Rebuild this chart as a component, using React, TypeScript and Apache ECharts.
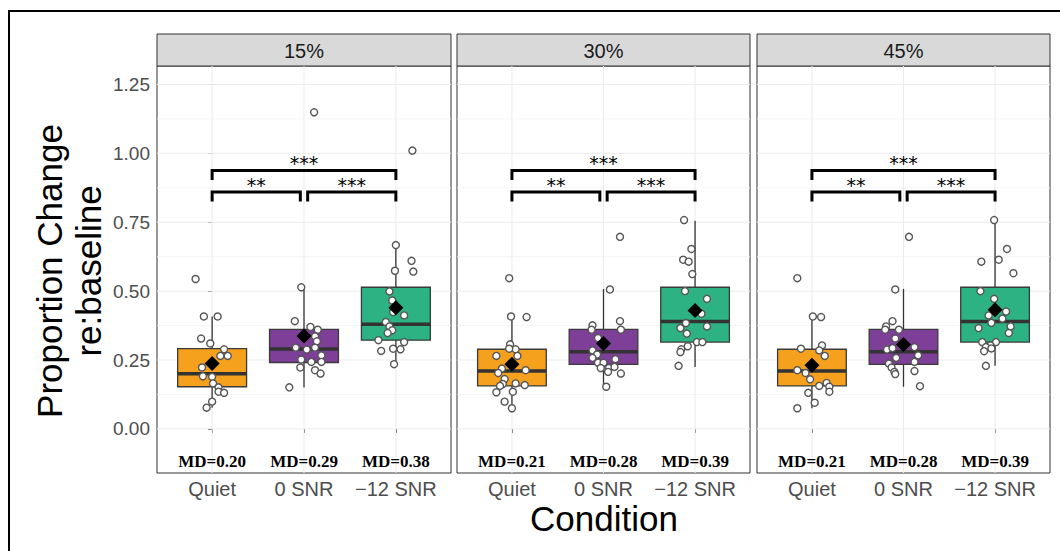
import React, { useEffect, useRef } from 'react';
import * as echarts from 'echarts';

// ---------- data ----------
const categories = ['Quiet', '0 SNR', '\u221212 SNR'];
const panelLabels = ['15%', '30%', '45%'];
const boxColors = ['#F5A11E', '#7D3F98', '#2DB383'];

const yTicks = [0, 0.25, 0.5, 0.75, 1.0, 1.25];
const yMinorLines = [0.125, 0.375, 0.625, 0.875, 1.125];

// box statistics per panel (Quiet, 0 SNR, -12 SNR)
const medians = [
  [0.2, 0.29, 0.38],
  [0.21, 0.28, 0.39],
  [0.21, 0.28, 0.39],
];
const q1s = [
  [0.153, 0.241, 0.322],
  [0.156, 0.234, 0.315],
  [0.156, 0.234, 0.315],
];
const q3s = [
  [0.291, 0.361, 0.514],
  [0.289, 0.361, 0.514],
  [0.289, 0.361, 0.514],
];
const whiskerLows = [
  [0.077, 0.15, 0.235],
  [0.075, 0.153, 0.225],
  [0.075, 0.153, 0.229],
];
const whiskerHighs = [
  [0.408, 0.514, 0.667],
  [0.408, 0.508, 0.755],
  [0.408, 0.508, 0.758],
];
const means = [
  [0.237, 0.337, 0.44],
  [0.235, 0.31, 0.43],
  [0.231, 0.306, 0.432],
];

// individual observations (values) and their horizontal jitter (category units)
const quiet15 = [0.544, 0.408, 0.408, 0.328, 0.31, 0.289, 0.265, 0.265, 0.223, 0.191, 0.189, 0.165, 0.151, 0.135, 0.131, 0.099, 0.077];
const quiet15Jitter = [-0.18, -0.09, 0.06, -0.12, -0.02, 0.13, 0.09, 0.17, -0.11, -0.1, 0.0, 0.01, 0.07, 0.07, 0.13, 0.0, -0.06];
const snr0_15 = [1.149, 0.514, 0.391, 0.37, 0.36, 0.336, 0.318, 0.295, 0.288, 0.295, 0.267, 0.252, 0.243, 0.243, 0.223, 0.213, 0.201, 0.151];
const snr0_15Jitter = [0.11, -0.03, -0.1, 0.07, 0.15, 0.12, 0.14, -0.09, 0.03, 0.12, 0.19, -0.03, 0.08, 0.19, -0.04, 0.12, 0.18, -0.16];
const snr12_15 = [1.01, 0.667, 0.61, 0.571, 0.574, 0.499, 0.466, 0.424, 0.412, 0.388, 0.372, 0.358, 0.348, 0.322, 0.315, 0.283, 0.291, 0.289, 0.235];
const snr12_15Jitter = [0.18, 0.0, 0.17, 0.19, -0.01, -0.07, -0.04, -0.03, 0.09, -0.11, -0.07, -0.04, -0.09, -0.19, 0.09, -0.16, -0.03, 0.05, -0.02];

const quiet30 = [0.547, 0.408, 0.406, 0.307, 0.289, 0.291, 0.265, 0.265, 0.219, 0.213, 0.203, 0.181, 0.163, 0.165, 0.159, 0.156, 0.133, 0.135, 0.099, 0.075];
const quiet30Jitter = [-0.03, -0.01, 0.16, -0.02, 0.04, -0.03, -0.17, 0.06, -0.11, 0.15, -0.15, -0.08, -0.1, 0.04, 0.14, -0.13, -0.17, 0.01, -0.08, 0.0];
const snr0_30 = [0.697, 0.506, 0.376, 0.391, 0.36, 0.36, 0.33, 0.285, 0.27, 0.258, 0.253, 0.24, 0.24, 0.221, 0.221, 0.225, 0.207, 0.201, 0.153];
const snr0_30Jitter = [0.18, 0.07, -0.12, 0.18, 0.19, -0.13, -0.06, -0.12, -0.07, -0.12, 0.13, -0.06, 0.0, -0.03, 0.06, 0.12, 0.05, 0.19, 0.03];
const snr12_30 = [0.758, 0.653, 0.614, 0.607, 0.562, 0.5, 0.472, 0.418, 0.384, 0.366, 0.372, 0.346, 0.315, 0.315, 0.3, 0.289, 0.279, 0.229];
const snr12_30Jitter = [-0.12, -0.04, -0.13, -0.07, -0.03, -0.11, 0.13, 0.07, -0.1, -0.16, 0.13, -0.09, 0.02, 0.08, -0.08, -0.15, -0.16, -0.18];

const quiet45 = [0.547, 0.408, 0.406, 0.291, 0.303, 0.285, 0.265, 0.213, 0.203, 0.18, 0.156, 0.167, 0.153, 0.135, 0.131, 0.095, 0.075];
const quiet45Jitter = [-0.16, 0.01, 0.1, -0.12, 0.11, 0.08, 0.14, -0.16, -0.07, -0.02, 0.08, 0.16, 0.19, 0.19, -0.04, 0.03, -0.16];
const snr0_45 = [0.697, 0.506, 0.391, 0.372, 0.36, 0.36, 0.328, 0.297, 0.288, 0.293, 0.267, 0.258, 0.243, 0.237, 0.223, 0.21, 0.207, 0.199, 0.155];
const snr0_45Jitter = [0.06, -0.09, -0.12, -0.19, -0.2, -0.05, -0.09, 0.12, -0.18, -0.12, 0.16, -0.08, 0.12, -0.16, -0.13, 0.12, -0.1, -0.09, 0.18];
const snr12_45 = [0.758, 0.653, 0.607, 0.614, 0.565, 0.5, 0.472, 0.426, 0.412, 0.4, 0.385, 0.372, 0.366, 0.348, 0.315, 0.315, 0.303, 0.297, 0.292, 0.282, 0.229];
const snr12_45Jitter = [-0.01, 0.13, -0.15, 0.04, 0.2, -0.16, -0.01, 0.12, -0.07, 0.08, -0.04, 0.17, -0.18, 0.15, -0.14, 0.01, -0.05, -0.1, -0.04, -0.12, -0.1];

const pointValues = [
  [quiet15, snr0_15, snr12_15],
  [quiet30, snr0_30, snr12_30],
  [quiet45, snr0_45, snr12_45],
];
const pointJitters = [
  [quiet15Jitter, snr0_15Jitter, snr12_15Jitter],
  [quiet30Jitter, snr0_30Jitter, snr12_30Jitter],
  [quiet45Jitter, snr0_45Jitter, snr12_45Jitter],
];

// significance brackets (same in every panel)
const bracketStart = [0, 1.04, 0];
const bracketEnd = [0.96, 2, 2];
const bracketY = [0.86, 0.86, 0.938];
const bracketLabels = ['**', '***', '***'];
const bracketTip = 0.035;

const mdLabelY = -0.12;

// ---------- layout ----------
const Y_MIN = -0.16;
const Y_MAX = 1.317;
const PANEL_LEFT = [157, 457, 757];
const PANEL_WIDTH = [294, 293, 293];
const PANEL_TOP = 66;
const PANEL_HEIGHT = 407;
const STRIP_TOP = 34;
const STRIP_H = 32;

const SANS = '"Liberation Sans", Arial, Helvetica, sans-serif';
const SERIF = '"Liberation Serif", "Times New Roman", serif';

function buildOption() {
  const grid: any[] = [];
  const xAxis: any[] = [];
  const yAxis: any[] = [];
  const series: any[] = [];
  const graphic: any[] = [];

  for (let p = 0; p < 3; p++) {
    grid.push({
      left: PANEL_LEFT[p],
      top: PANEL_TOP,
      width: PANEL_WIDTH[p],
      height: PANEL_HEIGHT,
      show: true,
      backgroundColor: '#ffffff',
      borderColor: '#333333',
      borderWidth: 1,
    });
    xAxis.push({
      type: 'value',
      gridIndex: p,
      min: -0.6,
      max: 2.6,
      splitLine: { show: false },
      axisLine: { show: false },
      axisTick: {
        show: true,
        customValues: [0, 1, 2],
        length: 4,
        lineStyle: { color: '#333333', width: 1 },
      },
      axisLabel: {
        customValues: [0, 1, 2],
        formatter: (v: number) => categories[Math.round(v)] ?? '',
        color: '#4D4D4D',
        fontSize: 20,
        lineHeight: 20,
        fontFamily: SANS,
        margin: 6,
      },
    });
    yAxis.push({
      type: 'value',
      gridIndex: p,
      min: Y_MIN,
      max: Y_MAX,
      splitLine: { show: false },
      axisLine: { show: false },
      axisTick: {
        show: p === 0,
        customValues: yTicks,
        length: 4,
        lineStyle: { color: '#333333', width: 1 },
      },
      axisLabel: {
        show: p === 0,
        customValues: yTicks,
        formatter: (v: number) => v.toFixed(2),
        color: '#4D4D4D',
        fontSize: 19,
        fontFamily: SANS,
        margin: 7,
      },
    });

    // grid lines
    const gridData: number[][] = [
      ...yTicks.map((v) => [0, v]),
      ...yMinorLines.map((v) => [1, v]),
      ...categories.map((_, i) => [2, i]),
    ];
    series.push({
      type: 'custom',
      xAxisIndex: p,
      yAxisIndex: p,
      z: 1,
      silent: true,
      data: gridData,
      renderItem: (params: any, api: any) => {
        const cs = params.coordSys;
        const kind = api.value(0);
        const val = api.value(1);
        if (kind === 2) {
          const x = api.coord([val, 0])[0];
          return {
            type: 'line',
            shape: { x1: x, y1: cs.y, x2: x, y2: cs.y + cs.height },
            style: { stroke: '#EBEBEB', lineWidth: 1 },
          };
        }
        const y = api.coord([0, val])[1];
        return {
          type: 'line',
          shape: { x1: cs.x, y1: y, x2: cs.x + cs.width, y2: y },
          style: { stroke: kind === 0 ? '#EBEBEB' : '#F3F3F3', lineWidth: kind === 0 ? 1 : 0.8 },
        };
      },
    });

    // boxes
    series.push({
      type: 'custom',
      xAxisIndex: p,
      yAxisIndex: p,
      z: 2,
      data: categories.map((_, i) => [i, whiskerLows[p][i], q1s[p][i], medians[p][i], q3s[p][i], whiskerHighs[p][i]]),
      renderItem: (params: any, api: any) => {
        const i = api.value(0);
        const xc = api.coord([i, 0])[0];
        const yLo = api.coord([i, api.value(1)])[1];
        const yQ1 = api.coord([i, api.value(2)])[1];
        const yMed = api.coord([i, api.value(3)])[1];
        const yQ3 = api.coord([i, api.value(4)])[1];
        const yHi = api.coord([i, api.value(5)])[1];
        const half = api.size([0.75, 0])[0] / 2;
        const color = boxColors[params.dataIndex];
        return {
          type: 'group',
          children: [
            { type: 'line', shape: { x1: xc, y1: yHi, x2: xc, y2: yQ3 }, style: { stroke: '#333333', lineWidth: 1.3 } },
            { type: 'line', shape: { x1: xc, y1: yQ1, x2: xc, y2: yLo }, style: { stroke: '#333333', lineWidth: 1.3 } },
            {
              type: 'rect',
              shape: { x: xc - half, y: yQ3, width: half * 2, height: yQ1 - yQ3 },
              style: { fill: color, stroke: '#3A3A3A', lineWidth: 1.3 },
            },
            { type: 'line', shape: { x1: xc - half, y1: yMed, x2: xc + half, y2: yMed }, style: { stroke: '#333333', lineWidth: 3.5 } },
          ],
        };
      },
    });

    // jittered points
    const pts: number[][] = [];
    categories.forEach((_, i) => {
      pointValues[p][i].forEach((v, k) => pts.push([i + pointJitters[p][i][k], v]));
    });
    series.push({
      type: 'scatter',
      xAxisIndex: p,
      yAxisIndex: p,
      z: 3,
      symbol: 'circle',
      symbolSize: 7,
      itemStyle: { color: '#ffffff', borderColor: '#555555', borderWidth: 1.4, opacity: 1 },
      emphasis: { disabled: true },
      data: pts,
    });

    // means
    series.push({
      type: 'scatter',
      xAxisIndex: p,
      yAxisIndex: p,
      z: 4,
      symbol: 'diamond',
      symbolSize: 15,
      itemStyle: { color: '#000000', opacity: 1 },
      emphasis: { disabled: true },
      data: categories.map((_, i) => [i, means[p][i]]),
    });

    // median labels
    series.push({
      type: 'custom',
      xAxisIndex: p,
      yAxisIndex: p,
      z: 4,
      data: categories.map((_, i) => [i, mdLabelY]),
      renderItem: (params: any, api: any) => {
        const pt = api.coord([api.value(0), api.value(1)]);
        return {
          type: 'text',
          x: pt[0],
          y: pt[1],
          style: {
            text: 'MD=' + medians[p][params.dataIndex].toFixed(2),
            fontSize: 17,
            fontWeight: 'bold',
            fontFamily: SERIF,
            fill: '#000000',
            textAlign: 'center',
            textVerticalAlign: 'middle',
          },
        };
      },
    });

    // significance brackets
    series.push({
      type: 'custom',
      xAxisIndex: p,
      yAxisIndex: p,
      z: 5,
      data: bracketY.map((y, k) => [bracketStart[k], y]),
      renderItem: (params: any, api: any) => {
        const k = params.dataIndex;
        const x1 = bracketStart[k];
        const x2 = bracketEnd[k];
        const y = bracketY[k];
        const a = api.coord([x1, y - bracketTip]);
        const b = api.coord([x1, y]);
        const c = api.coord([x2, y]);
        const d = api.coord([x2, y - bracketTip]);
        const mid = api.coord([(x1 + x2) / 2, y]);
        return {
          type: 'group',
          children: [
            {
              type: 'polyline',
              shape: { points: [a, b, c, d] },
              style: { stroke: '#000000', lineWidth: 3, fill: null, lineJoin: 'miter' },
            },
            {
              type: 'text',
              x: mid[0],
              y: mid[1] - 7,
              style: {
                text: bracketLabels[k],
                fontSize: 19,
                fontFamily: '"DejaVu Sans", sans-serif',
                fill: '#000000',
                textAlign: 'center',
                textVerticalAlign: 'middle',
              },
            },
          ],
        };
      },
    });

    // facet strip
    graphic.push({
      type: 'rect',
      shape: { x: PANEL_LEFT[p], y: STRIP_TOP, width: PANEL_WIDTH[p], height: STRIP_H },
      style: { fill: '#D9D9D9', stroke: '#333333', lineWidth: 1 },
    });
    graphic.push({
      type: 'text',
      x: PANEL_LEFT[p] + PANEL_WIDTH[p] / 2,
      y: STRIP_TOP + STRIP_H / 2 + 1,
      style: {
        text: panelLabels[p],
        fontSize: 20,
        fontFamily: SANS,
        fill: '#1A1A1A',
        textAlign: 'center',
        textVerticalAlign: 'middle',
      },
    });
  }

  // outer frame
  graphic.unshift({
    type: 'rect',
    z: -10,
    shape: { x: 9, y: 11, width: 1200, height: 700 },
    style: { fill: null, stroke: '#000000', lineWidth: 2 },
  });

  // axis titles
  graphic.push({
    type: 'text',
    x: 69,
    y: 271,
    rotation: Math.PI / 2,
    style: {
      text: 'Proportion Change\nre:baseline',
      fontSize: 35,
      lineHeight: 39,
      fontFamily: SANS,
      fill: '#000000',
      textAlign: 'center',
      textVerticalAlign: 'middle',
    },
  });
  graphic.push({
    type: 'text',
    x: 604,
    y: 518,
    style: {
      text: 'Condition',
      fontSize: 35,
      lineHeight: 28,
      fontFamily: SANS,
      fill: '#000000',
      textAlign: 'center',
      textVerticalAlign: 'middle',
    },
  });

  return {
    animation: false,
    backgroundColor: '#ffffff',
    grid,
    xAxis,
    yAxis,
    series,
    graphic,
  };
}

export default function App() {
  const ref = useRef<HTMLDivElement>(null);
  useEffect(() => {
    if (!ref.current) return;
    const chart = echarts.init(ref.current, null, { renderer: 'svg' });
    chart.setOption(buildOption() as any);
    return () => chart.dispose();
  }, []);
  return (
    <div
      ref={ref}
      style={{ position: 'fixed', left: 0, top: 0, width: 1060, height: 551, background: '#ffffff' }}
    />
  );
}
